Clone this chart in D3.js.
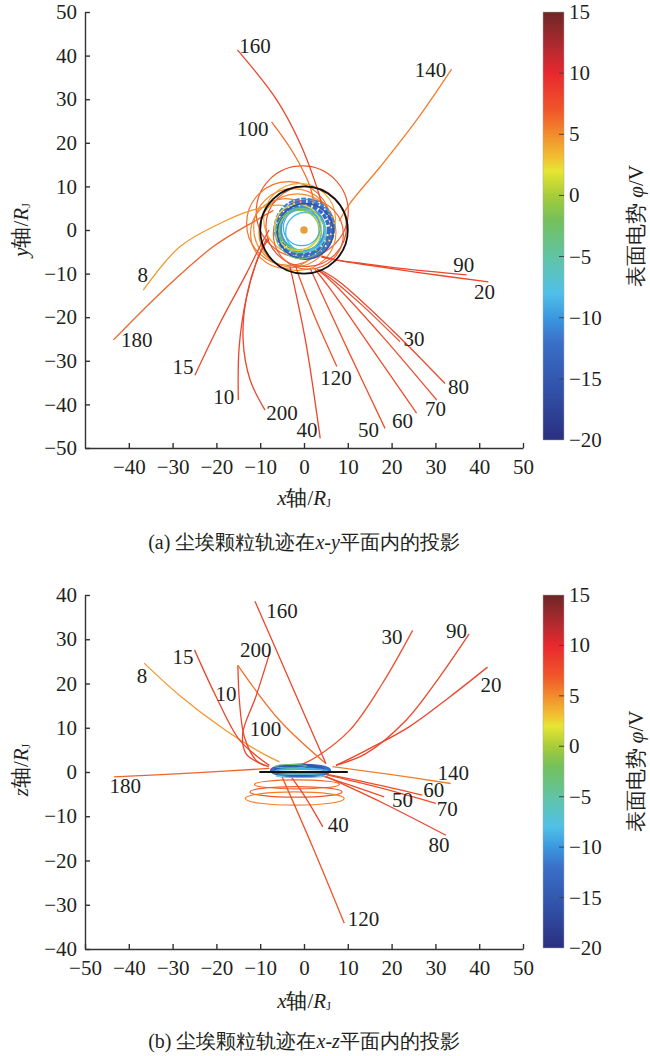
<!DOCTYPE html>
<html lang="en">
<head>
<meta charset="utf-8">
<title>尘埃颗粒轨迹</title>
<script src="https://cdn.jsdelivr.net/npm/d3@7"></script>
<style>
  body { margin: 0; background: #fff; }
</style>
</head>
<body>
<script>
// colour map of the surface potential (V)
var potStops  = [-20, -16, -12, -10, -8, -5, -2, 0, 2, 3, 5, 7, 10, 12, 15];
var potColors = ["#2b2f7f", "#3150a8", "#3a70c8", "#3a98e0", "#50c0e8", "#60c4a4", "#74c05a",
                 "#a8cc38", "#e6e632", "#f2c232", "#f28c2c", "#f0552a", "#e8282e", "#b42a30", "#6e2626"];
var cbTicks = [15, 10, 5, 0, -5, -10, -15, -20];

// particle sizes (labels) and potential of their outer path
var sizes      = [8, 10, 15, 20, 30, 40, 50, 60, 70, 80, 90, 100, 120, 140, 160, 180, 200];
var sizePot    = [4.5, 8, 8, 8, 7.5, 8, 7.5, 7.5, 7.5, 8, 8, 6, 7, 5.5, 8, 6.5, 8];

// (a) x-y projection, outer part of each trajectory
var pathsXY = [
  [[-36.7,-13.8],[-28.3,-3.8],[-19.2,1.5],[-11.6,4.6],[-5.5,5.7],[-1,4.5]],
  [[-15,-39],[-14.8,-26.8],[-13.1,-15.3],[-10.4,-6.1],[-8.5,-2]],
  [[-24.9,-33.3],[-19.2,-21.4],[-13.1,-9.9],[-9.7,-3.1],[-8,0]],
  [[42.1,-11.9],[25,-9.6],[13,-7.8],[7.5,-6.9],[4,-6]],
  [[21.9,-25.6],[13,-17],[6,-11],[3,-9]],
  [[3.7,-47.8],[0.6,-26.8],[-2,-13.8],[-3.2,-8.4]],
  [[18.5,-45.5],[10,-27.5],[4,-14.5],[1.5,-9]],
  [[25.7,-42],[15,-26.5],[6,-13.5],[2.5,-9]],
  [[30.3,-39],[18,-24.5],[7,-12.5],[3,-9]],
  [[32.2,-35.2],[20,-22.8],[8,-11.8],[3.5,-9]],
  [[37.1,-10.3],[22,-8.8],[12,-7.5],[7.5,-6.9],[4,-6.2]],
  [[-7.4,24.8],[-2.4,17.6],[1.4,9.9],[2.5,4.6]],
  [[7.5,-31.3],[2.5,-20],[-1,-11],[-2,-8]],
  [[33.7,36.9],[25.7,25.2],[17.4,14.5],[10.5,6.1],[8,2]],
  [[-15.2,41.3],[-6.2,29.8],[-0.9,19.9],[2.9,9.9],[4.4,4.6]],
  [[-43.5,-25.2],[-32.1,-13.8],[-20.7,-3.8],[-10.8,2.3],[-7,4.5]],
  [[-8.9,-41.3],[-12.3,-34.4],[-13.9,-25.2],[-13.1,-15.3],[-10,-5.3],[-8,-2]]
];
// captured loops around the planet (cx, cy, r, potential)
var loopsXY = [
  [-0.4, 4.2, 10.5, 7], [-3.5, 1.5, 9.6, 6], [-2.5, 0.5, 9.0, 5], [-1.5, -0.5, 8.8, 5],
  [0.5, 0.8, 9.2, 7.5], [-4.2, -0.8, 8.0, 5.5], [-1, 2.5, 8.2, 4], [1.0, -1.0, 8.0, 6.5]
];
// inner charged ring (cx, cy, r, potential)
var ringXY = [
  [0.2, 0.3, 6.2, -12], [0.0, 0.1, 5.6, -13], [0.1, 0.4, 6.8, -11], [-0.3, 0.2, 5.0, -10],
  [0.3, -0.5, 4.5, -8], [-0.9, -0.3, 4.9, -5], [-1.1, 0.0, 4.5, -1], [-1.4, 0.6, 5.3, 2.5],
  [0.3, -0.3, 6.4, -16], [-0.5, 0.6, 4.2, -9], [-0.7, -0.8, 5.8, -3]
];
var ringWidth = [4, 3.5, 2, 2.5, 1.5, 1.3, 1.2, 1.2, 1.5, 1.2, 1];

// (b) x-z projection
var pathsXZ = [
  [[-36.5,24.6],[-28.4,17.3],[-18,9.5],[-10,4.5],[-5.6,2.3]],
  [[-15.1,24.1],[-14.7,15.5],[-13.6,7.9],[-10.9,2.6],[-8,1.2]],
  [[-25,27.6],[-20,16.9],[-14.7,7.2],[-10,3],[-7.9,1.5]],
  [[41.9,23.7],[33.2,16.9],[24,10.2],[14.2,4.9],[7.3,1.5]],
  [[24.8,32],[17.9,20],[10.4,9.4],[2.8,3.4],[-1,1.5]],
  [[4.3,-12.4],[0.5,-6],[-3,-1]],
  [[18.3,-5.6],[10,-2.8],[4,-0.8]],
  [[27,-5.2],[15,-2.5],[5,-0.5]],
  [[30.1,-7.1],[17,-3.5],[5,-0.6]],
  [[32.4,-14.3],[18,-7],[5,-1]],
  [[37.7,31.2],[30.9,21.4],[23.3,11.7],[14.2,4.2],[7.3,1.5]],
  [[-15.1,24.1],[-5.6,11.7],[5,1.9]],
  [[9.2,-34.2],[2,-17],[-5,-1.1]],
  [[33.5,-2.6],[20,-0.6],[6.5,1.2]],
  [[-11.2,38.6],[-3,20],[5,1.9]],
  [[-43.4,-1.1],[-25,-0.2],[-7.9,0.8]],
  [[-7.9,26.7],[-11,17],[-14,8.7],[-13.2,4.1],[-9,1.5]]
];
// spiral loops below the plane (cx, cz, rx, rz, potential)
var loopsXZ = [[-1.6, -2.8, 9.7, 1.0, 6.5], [-1.8, -4.5, 10.5, 1.2, 7], [-2.1, -6.0, 11.3, 1.5, 5.5]];
// flattened ring in x-z (cx, cz, rx, rz, potential)
var ringXZ = [
  [-0.8, 0.35, 6.6, 1.2, -13], [-0.8, 0.3, 6.2, 0.9, -12], [-1.0, 0.4, 5.6, 1.1, -15],
  [-0.6, 0.2, 6.0, 0.5, -9], [-3.0, 1.3, 3.6, 0.4, -3], [-0.8, -0.9, 5.6, 0.35, -7]
];
var ringWidthXZ = [3.5, 3, 2.5, 2, 1, 1];

// label anchors (text centre, data units)
var labelsXY = [[8,-36.8,-10.4],[10,-18.3,-38.2],[15,-27.6,-31.4],[20,41.2,-14.2],[30,25.1,-24.9],
  [40,0.7,-45.8],[50,14.7,-45.8],[60,22.5,-43.9],[70,30,-41.1],[80,35.3,-35.9],[90,36.5,-8.1],
  [100,-11.7,23.1],[120,7.3,-34],[140,28.9,36.8],[160,-11.2,42.3],[180,-38.2,-25.3],[200,-5,-42]];
var labelsXZ = [[8,-37,21.7],[10,-17.8,17.7],[15,-27.6,26.1],[20,42.7,19.7],[30,20.1,30.6],
  [40,7.8,-11.9],[50,22.5,-6.4],[60,29.6,-4.1],[70,32.7,-8.3],[80,30.8,-16.6],[90,34.8,31.8],
  [100,-8.8,9.8],[120,13.6,-33.3],[140,34.1,-0.15],[160,-5,36.3],[180,-40.8,-3.2],[200,-11,27.6]];

var xTicksA = [-40, -30, -20, -10, 0, 10, 20, 30, 40, 50];
var yTicksA = [50, 40, 30, 20, 10, 0, -10, -20, -30, -40, -50];
var xTicksB = [-50, -40, -30, -20, -10, 0, 10, 20, 30, 40, 50];
var yTicksB = [40, 30, 20, 10, 0, -10, -20, -30, -40];

var FONT = "'Liberation Serif', 'Times New Roman', 'DejaVu Serif', serif";

var color = d3.scaleLinear().domain(potStops).range(potColors).clamp(true);

var svg = d3.select("body").append("svg")
    .attr("width", 650).attr("height", 1056)
    .style("font-family", FONT);

var defs = svg.append("defs");
var grad = defs.append("linearGradient").attr("id", "cbar")
    .attr("x1", 0).attr("y1", 1).attr("x2", 0).attr("y2", 0);
grad.selectAll("stop").data(potStops).enter().append("stop")
    .attr("offset", function(d) { return (d + 20) / 35; })
    .attr("stop-color", function(d) { return color(d); });

var line = d3.line().curve(d3.curveCatmullRom.alpha(0.5));

function panel(o) {
  var x = d3.scaleLinear().domain([-50, 50]).range([85, 523]);
  var y = d3.scaleLinear().domain(o.yDomain).range([o.bottom, o.top]);
  var g = svg.append("g");
  line.x(function(d) { return x(d[0]); }).y(function(d) { return y(d[1]); });

  // loops
  g.selectAll("ellipse.loop").data(o.loops).enter().append("ellipse")
    .attr("cx", function(d) { return x(d[0]); })
    .attr("cy", function(d) { return y(d[1]); })
    .attr("rx", function(d) { return x(d[2]) - x(0); })
    .attr("ry", function(d) { return y(0) - y(o.flat ? d[3] : d[2]); })
    .attr("fill", "none")
    .attr("stroke", function(d) { return color(o.flat ? d[4] : d[3]); })
    .attr("stroke-width", 1.2);

  // trajectories
  g.selectAll("path.traj").data(o.paths).enter().append("path")
    .attr("d", line)
    .attr("fill", "none")
    .attr("stroke", function(d, i) { return color(sizePot[i]); })
    .attr("stroke-width", 1.3);

  // ring
  g.selectAll("ellipse.ring").data(o.ring).enter().append("ellipse")
    .attr("cx", function(d) { return x(d[0]); })
    .attr("cy", function(d) { return y(d[1]); })
    .attr("rx", function(d) { return x(d[2]) - x(0); })
    .attr("ry", function(d) { return y(0) - y(o.flat ? d[3] : d[2]); })
    .attr("fill", "none")
    .attr("stroke", function(d) { return color(o.flat ? d[4] : d[3]); })
    .attr("stroke-width", function(d, i) { return o.flat ? ringWidthXZ[i] : ringWidth[i]; })
    .attr("stroke-dasharray", function(d, i) { return (!o.flat && i < 3) ? "5 1.5" : null; });

  if (o.flat) {
    g.append("line").attr("x1", x(-10.2)).attr("x2", x(10)).attr("y1", y(0)).attr("y2", y(0))
      .attr("stroke", "#111").attr("stroke-width", 2);
  } else {
    g.append("ellipse").attr("cx", x(0)).attr("cy", y(0))
      .attr("rx", x(10) - x(0)).attr("ry", y(0) - y(10))
      .attr("fill", "none").attr("stroke", "#111").attr("stroke-width", 1.8);
    g.append("circle").attr("cx", x(0)).attr("cy", y(0)).attr("r", x(0.85) - x(0))
      .attr("fill", "#e5a03a");
  }

  // size labels
  g.selectAll("text.lab").data(o.labels).enter().append("text")
    .attr("x", function(d) { return x(d[1]); })
    .attr("y", function(d) { return y(d[2]); })
    .attr("text-anchor", "middle").attr("dominant-baseline", "central")
    .attr("font-size", 21)
    .text(function(d) { return d[0]; });

  // axes
  var ax = g.append("g").attr("transform", "translate(0," + o.bottom + ")")
    .call(d3.axisBottom(x).tickValues(o.xTicks).tickSizeInner(-5).tickSizeOuter(0).tickPadding(11));
  var ay = g.append("g").attr("transform", "translate(85,0)")
    .call(d3.axisLeft(y).tickValues(o.yTicks).tickSizeInner(-5).tickSizeOuter(0).tickPadding(8));
  [ax, ay].forEach(function(a) {
    a.attr("font-family", FONT).attr("font-size", 21);
    a.selectAll("text").attr("fill", "#231f20");
    a.selectAll("line, path").attr("stroke", "#333").attr("stroke-width", 1.4);
  });

  // colorbar
  var c = d3.scaleLinear().domain([-20, 15]).range([o.cbBottom, o.cbTop]);
  g.append("rect").attr("x", 543).attr("y", o.cbTop).attr("width", 21)
    .attr("height", o.cbBottom - o.cbTop).attr("fill", "url(#cbar)")
    .attr("stroke", "#aaa").attr("stroke-width", 0.5);
  g.selectAll("line.cbt").data(cbTicks.slice(1, -1)).enter().append("line")
    .attr("x1", 559).attr("x2", 564)
    .attr("y1", function(d) { return c(d); }).attr("y2", function(d) { return c(d); })
    .attr("stroke", "#444").attr("stroke-width", 1);
  g.selectAll("text.cbl").data(cbTicks).enter().append("text")
    .attr("x", 569).attr("y", function(d) { return c(d); })
    .attr("dominant-baseline", "central").attr("font-size", 21)
    .text(function(d) { return d3.format("")(d); });
  var cl = g.append("text")
    .attr("transform", "translate(636," + (o.cbTop + o.cbBottom) / 2 + ") rotate(-90)")
    .attr("text-anchor", "middle").attr("dominant-baseline", "central").attr("font-size", 21);
  cl.append("tspan").text("表面电势 ");
  cl.append("tspan").attr("font-style", "italic").text("φ");
  cl.append("tspan").text("/V");

  // axis titles
  var yl = g.append("text")
    .attr("transform", "translate(21," + o.yLabelY + ") rotate(-90)")
    .attr("text-anchor", "middle").attr("dominant-baseline", "central").attr("font-size", 21);
  yl.append("tspan").attr("font-style", "italic").text(o.yName);
  yl.append("tspan").text("轴/");
  yl.append("tspan").attr("font-style", "italic").text("R");
  yl.append("tspan").attr("font-size", 12).attr("dy", 5).text("J");

  var xl = g.append("text")
    .attr("x", 304).attr("y", o.xLabelY)
    .attr("text-anchor", "middle").attr("dominant-baseline", "central").attr("font-size", 21);
  xl.append("tspan").attr("font-style", "italic").text("x");
  xl.append("tspan").text("轴/");
  xl.append("tspan").attr("font-style", "italic").text("R");
  xl.append("tspan").attr("font-size", 12).attr("dy", 5).text("J");

  var cap = g.append("text")
    .attr("x", 304).attr("y", o.capY)
    .attr("text-anchor", "middle").attr("dominant-baseline", "central").attr("font-size", 20);
  cap.append("tspan").text(o.capA);
  cap.append("tspan").attr("font-style", "italic").text("x");
  cap.append("tspan").text("-");
  cap.append("tspan").attr("font-style", "italic").text(o.yName);
  cap.append("tspan").text("平面内的投影");

  g.selectAll("text").style("fill", "#231f20");
}

panel({
  top: 12, bottom: 448, yDomain: [-50, 50], xTicks: xTicksA, yTicks: yTicksA,
  paths: pathsXY, loops: loopsXY, ring: ringXY, labels: labelsXY, flat: false,
  cbTop: 12, cbBottom: 440, yName: "y", yLabelY: 230, xLabelY: 498, capY: 542,
  capA: "(a) 尘埃颗粒轨迹在"
});
panel({
  top: 595, bottom: 949, yDomain: [-40, 40], xTicks: xTicksB, yTicks: yTicksB,
  paths: pathsXZ, loops: loopsXZ, ring: ringXZ, labels: labelsXZ, flat: true,
  cbTop: 595, cbBottom: 948, yName: "z", yLabelY: 770, xLabelY: 1001, capY: 1041,
  capA: "(b) 尘埃颗粒轨迹在"
});
</script>
</body>
</html>
